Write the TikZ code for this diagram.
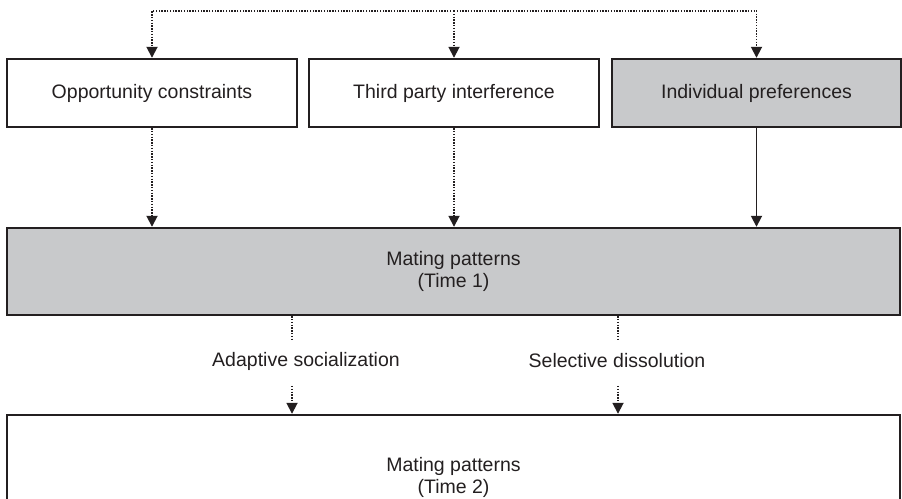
\documentclass[tikz,border=0pt]{standalone}
\usepackage{fontspec}
\setmainfont{Liberation Sans}
\usetikzlibrary{arrows.meta}
\definecolor{ink}{HTML}{231F20}
\definecolor{boxgray}{HTML}{C8C9CB}
\begin{document}
\begin{tikzpicture}[x=1pt,y=1pt,
  font=\fontsize{19.5}{22}\selectfont, text=ink,
  box/.style={rectangle,draw=ink,line width=2.4pt,inner sep=0pt,align=center},
  shaded/.style={box,fill=boxgray},
  dotline/.style={draw=ink,line width=1.8pt,dash pattern=on 1.4pt off 1.4pt},
  dotarrow/.style={dotline,-{Triangle[length=11pt,width=11pt]}},
  solidarrow/.style={draw=ink,line width=1.8pt,-{Triangle[length=11pt,width=11pt]}}]
\useasboundingbox (0,0) rectangle (902,498);
\clip (0,0) rectangle (902,498);
% top row
\node[box,minimum width=290,minimum height=68] (opp) at (152,405) {Opportunity constraints};
\node[box,minimum width=290,minimum height=68] (third) at (454,405) {Third party interference};
\node[shaded,minimum width=289,minimum height=68] (indiv) at (756.5,405) {Individual preferences};
% mating patterns
\node[shaded,minimum width=893,minimum height=87] (time1) at (453.5,226.5) {Mating patterns\\(Time 1)};
\node[box,minimum width=893,minimum height=124] (time2) at (453.5,21) {Mating patterns\\(Time 2)};
\node (adapt) at (306,137) {Adaptive socialization};
\node (select) at (617,137) {Selective dissolution};
\coordinate (top) at (454,487);
\coordinate (a1) at (292,158);
\coordinate (a2) at (292,112);
\coordinate (s1) at (618,158);
\coordinate (s2) at (618,112);
\draw[dotarrow] (top) -| (opp);
\draw[dotarrow] (top) -- (third);
\draw[dotarrow] (top) -| (indiv);
\draw[dotarrow] (opp) -- (opp |- time1.north);
\draw[dotarrow] (third) -- (third |- time1.north);
\draw[solidarrow] (indiv) -- (indiv |- time1.north);
\draw[dotline] (time1.south -| a1) -- (a1);
\draw[dotarrow] (a2) -- (a2 |- time2.north);
\draw[dotline] (time1.south -| s1) -- (s1);
\draw[dotarrow] (s2) -- (s2 |- time2.north);
\end{tikzpicture}
\end{document}
